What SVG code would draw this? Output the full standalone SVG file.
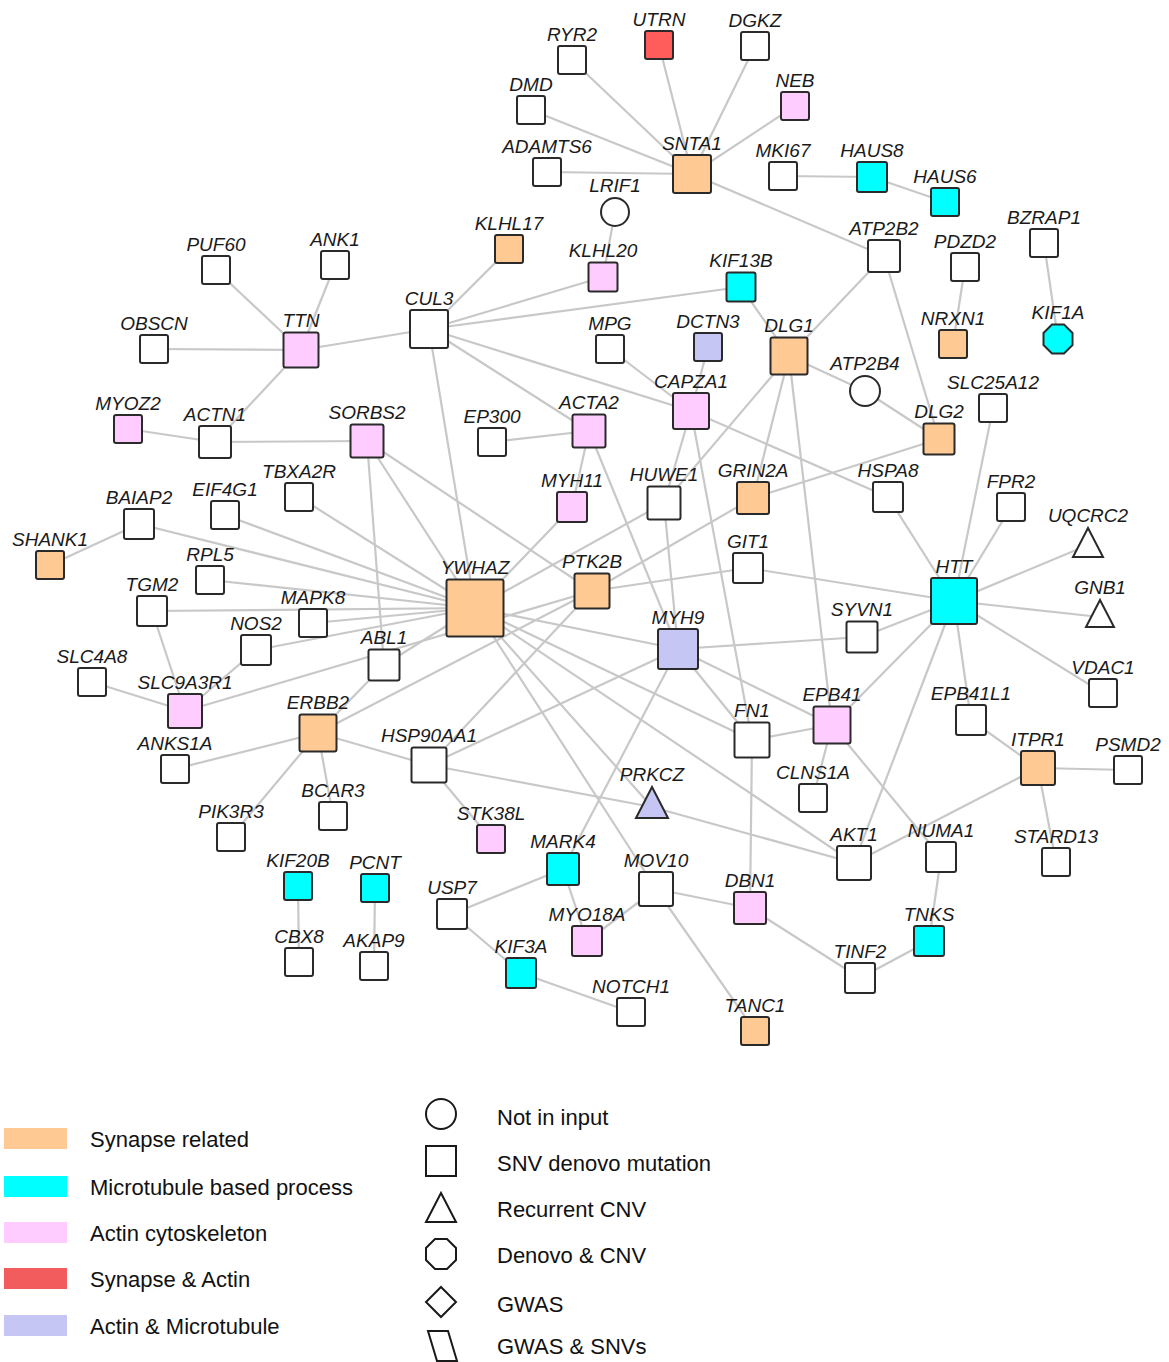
<svg xmlns="http://www.w3.org/2000/svg" width="1169" height="1362" viewBox="0 0 1169 1362">
<style>
.e line{stroke:#c8c8c8;stroke-width:2.2}
.n{stroke:#2a2a2a;stroke-width:2}
.w{fill:#fff}.o{fill:#ffc994}.c{fill:#00ffff}.p{fill:#ffccff}.r{fill:#ff5c5c}.l{fill:#c6c6f4}
.t{font-family:"Liberation Sans",Arial,sans-serif;font-style:italic;font-size:19px;fill:#1a1a1a;text-anchor:middle}
.lg{font-family:"Liberation Sans",Arial,sans-serif;font-size:22px;fill:#111}
.ls{stroke:#1a1a1a;stroke-width:2;fill:#fff}
</style>
<rect width="1169" height="1362" fill="#fff"/>
<g id="edges" class="e">
<line x1="692" y1="174" x2="572" y2="60"/>
<line x1="692" y1="174" x2="659" y2="45"/>
<line x1="692" y1="174" x2="755" y2="46"/>
<line x1="692" y1="174" x2="795" y2="106"/>
<line x1="692" y1="174" x2="531" y2="110"/>
<line x1="692" y1="174" x2="547" y2="172"/>
<line x1="692" y1="174" x2="884" y2="256"/>
<line x1="783" y1="176" x2="872" y2="177"/>
<line x1="872" y1="177" x2="945" y2="202"/>
<line x1="615" y1="212" x2="603" y2="277"/>
<line x1="429" y1="329" x2="509" y2="249"/>
<line x1="429" y1="329" x2="603" y2="277"/>
<line x1="429" y1="329" x2="741" y2="287"/>
<line x1="429" y1="329" x2="301" y2="350"/>
<line x1="429" y1="329" x2="475" y2="608"/>
<line x1="429" y1="329" x2="589" y2="431"/>
<line x1="429" y1="329" x2="691" y2="411"/>
<line x1="741" y1="287" x2="789" y2="356"/>
<line x1="884" y1="256" x2="789" y2="356"/>
<line x1="884" y1="256" x2="939" y2="439"/>
<line x1="965" y1="267" x2="953" y2="344"/>
<line x1="1044" y1="243" x2="1058" y2="339"/>
<line x1="301" y1="350" x2="216" y2="270"/>
<line x1="301" y1="350" x2="335" y2="265"/>
<line x1="301" y1="350" x2="154" y2="349"/>
<line x1="301" y1="350" x2="215" y2="442"/>
<line x1="128" y1="429" x2="215" y2="442"/>
<line x1="215" y1="442" x2="367" y2="441"/>
<line x1="367" y1="441" x2="475" y2="608"/>
<line x1="367" y1="441" x2="384" y2="665"/>
<line x1="367" y1="441" x2="592" y2="591"/>
<line x1="492" y1="442" x2="589" y2="431"/>
<line x1="589" y1="431" x2="572" y2="507"/>
<line x1="589" y1="431" x2="678" y2="649"/>
<line x1="610" y1="349" x2="691" y2="411"/>
<line x1="708" y1="347" x2="691" y2="411"/>
<line x1="691" y1="411" x2="664" y2="503"/>
<line x1="691" y1="411" x2="752" y2="740"/>
<line x1="691" y1="411" x2="888" y2="497"/>
<line x1="789" y1="356" x2="865" y2="391"/>
<line x1="789" y1="356" x2="753" y2="498"/>
<line x1="789" y1="356" x2="832" y2="725"/>
<line x1="789" y1="356" x2="664" y2="503"/>
<line x1="865" y1="391" x2="939" y2="439"/>
<line x1="753" y1="498" x2="939" y2="439"/>
<line x1="753" y1="498" x2="592" y2="591"/>
<line x1="664" y1="503" x2="678" y2="649"/>
<line x1="664" y1="503" x2="475" y2="608"/>
<line x1="572" y1="507" x2="475" y2="608"/>
<line x1="888" y1="497" x2="954" y2="601"/>
<line x1="993" y1="408" x2="954" y2="601"/>
<line x1="1011" y1="507" x2="954" y2="601"/>
<line x1="1088" y1="545" x2="954" y2="601"/>
<line x1="1100" y1="617" x2="954" y2="601"/>
<line x1="1103" y1="693" x2="954" y2="601"/>
<line x1="862" y1="637" x2="954" y2="601"/>
<line x1="748" y1="568" x2="954" y2="601"/>
<line x1="832" y1="725" x2="954" y2="601"/>
<line x1="971" y1="720" x2="954" y2="601"/>
<line x1="854" y1="863" x2="954" y2="601"/>
<line x1="592" y1="591" x2="748" y2="568"/>
<line x1="592" y1="591" x2="429" y2="765"/>
<line x1="592" y1="591" x2="318" y2="733"/>
<line x1="592" y1="591" x2="185" y2="711"/>
<line x1="50" y1="565" x2="139" y2="524"/>
<line x1="139" y1="524" x2="475" y2="608"/>
<line x1="225" y1="515" x2="475" y2="608"/>
<line x1="299" y1="497" x2="475" y2="608"/>
<line x1="210" y1="580" x2="475" y2="608"/>
<line x1="152" y1="611" x2="475" y2="608"/>
<line x1="313" y1="623" x2="475" y2="608"/>
<line x1="256" y1="650" x2="475" y2="608"/>
<line x1="384" y1="665" x2="475" y2="608"/>
<line x1="152" y1="611" x2="185" y2="711"/>
<line x1="92" y1="682" x2="185" y2="711"/>
<line x1="256" y1="650" x2="185" y2="711"/>
<line x1="318" y1="733" x2="384" y2="665"/>
<line x1="318" y1="733" x2="175" y2="769"/>
<line x1="318" y1="733" x2="231" y2="837"/>
<line x1="318" y1="733" x2="333" y2="816"/>
<line x1="318" y1="733" x2="429" y2="765"/>
<line x1="475" y1="608" x2="678" y2="649"/>
<line x1="475" y1="608" x2="752" y2="740"/>
<line x1="475" y1="608" x2="854" y2="863"/>
<line x1="475" y1="608" x2="656" y2="889"/>
<line x1="475" y1="608" x2="652" y2="807"/>
<line x1="678" y1="649" x2="862" y2="637"/>
<line x1="678" y1="649" x2="752" y2="740"/>
<line x1="678" y1="649" x2="832" y2="725"/>
<line x1="678" y1="649" x2="563" y2="869"/>
<line x1="678" y1="649" x2="429" y2="765"/>
<line x1="429" y1="765" x2="491" y2="839"/>
<line x1="429" y1="765" x2="652" y2="807"/>
<line x1="652" y1="807" x2="854" y2="863"/>
<line x1="752" y1="740" x2="832" y2="725"/>
<line x1="752" y1="740" x2="750" y2="908"/>
<line x1="832" y1="725" x2="813" y2="798"/>
<line x1="832" y1="725" x2="941" y2="857"/>
<line x1="854" y1="863" x2="1038" y2="768"/>
<line x1="971" y1="720" x2="1038" y2="768"/>
<line x1="1038" y1="768" x2="1128" y2="770"/>
<line x1="1038" y1="768" x2="1056" y2="862"/>
<line x1="941" y1="857" x2="929" y2="941"/>
<line x1="929" y1="941" x2="860" y2="978"/>
<line x1="860" y1="978" x2="750" y2="908"/>
<line x1="656" y1="889" x2="750" y2="908"/>
<line x1="656" y1="889" x2="587" y2="941"/>
<line x1="656" y1="889" x2="755" y2="1031"/>
<line x1="563" y1="869" x2="452" y2="914"/>
<line x1="563" y1="869" x2="587" y2="941"/>
<line x1="452" y1="914" x2="521" y2="973"/>
<line x1="521" y1="973" x2="631" y2="1012"/>
<line x1="298" y1="886" x2="299" y2="962"/>
<line x1="375" y1="888" x2="374" y2="966"/>
</g>
<g id="nodes">
<g id="n-RYR2"><rect class="n w" x="558" y="46" width="28" height="28" rx="2"/><text class="t" x="572" y="41">RYR2</text></g>
<g id="n-UTRN"><rect class="n r" x="645" y="31" width="28" height="28" rx="2"/><text class="t" x="659" y="26">UTRN</text></g>
<g id="n-DGKZ"><rect class="n w" x="741" y="32" width="28" height="28" rx="2"/><text class="t" x="755" y="27">DGKZ</text></g>
<g id="n-DMD"><rect class="n w" x="517" y="96" width="28" height="28" rx="2"/><text class="t" x="531" y="91">DMD</text></g>
<g id="n-NEB"><rect class="n p" x="781" y="92" width="28" height="28" rx="2"/><text class="t" x="795" y="87">NEB</text></g>
<g id="n-ADAMTS6"><rect class="n w" x="533" y="158" width="28" height="28" rx="2"/><text class="t" x="547" y="153">ADAMTS6</text></g>
<g id="n-SNTA1"><rect class="n o" x="673" y="155" width="38" height="38" rx="2"/><text class="t" x="692" y="150">SNTA1</text></g>
<g id="n-MKI67"><rect class="n w" x="769" y="162" width="28" height="28" rx="2"/><text class="t" x="783" y="157">MKI67</text></g>
<g id="n-HAUS8"><rect class="n c" x="857" y="162" width="30" height="30" rx="2"/><text class="t" x="872" y="157">HAUS8</text></g>
<g id="n-HAUS6"><rect class="n c" x="931" y="188" width="28" height="28" rx="2"/><text class="t" x="945" y="183">HAUS6</text></g>
<g id="n-LRIF1"><circle class="n w" cx="615" cy="212" r="14"/><text class="t" x="615" y="192">LRIF1</text></g>
<g id="n-ATP2B2"><rect class="n w" x="868" y="240" width="32" height="32" rx="2"/><text class="t" x="884" y="235">ATP2B2</text></g>
<g id="n-PDZD2"><rect class="n w" x="951" y="253" width="28" height="28" rx="2"/><text class="t" x="965" y="248">PDZD2</text></g>
<g id="n-BZRAP1"><rect class="n w" x="1030" y="229" width="28" height="28" rx="2"/><text class="t" x="1044" y="224">BZRAP1</text></g>
<g id="n-KLHL17"><rect class="n o" x="495" y="235" width="28" height="28" rx="2"/><text class="t" x="509" y="230">KLHL17</text></g>
<g id="n-KLHL20"><rect class="n p" x="588.5" y="262.5" width="29" height="29" rx="2"/><text class="t" x="603" y="257">KLHL20</text></g>
<g id="n-KIF13B"><rect class="n c" x="726.5" y="272.5" width="29" height="29" rx="2"/><text class="t" x="741" y="267">KIF13B</text></g>
<g id="n-PUF60"><rect class="n w" x="202" y="256" width="28" height="28" rx="2"/><text class="t" x="216" y="251">PUF60</text></g>
<g id="n-ANK1"><rect class="n w" x="321" y="251" width="28" height="28" rx="2"/><text class="t" x="335" y="246">ANK1</text></g>
<g id="n-CUL3"><rect class="n w" x="410" y="310" width="38" height="38" rx="2"/><text class="t" x="429" y="305">CUL3</text></g>
<g id="n-TTN"><rect class="n p" x="283.5" y="332.5" width="35" height="35" rx="2"/><text class="t" x="301" y="327">TTN</text></g>
<g id="n-OBSCN"><rect class="n w" x="140" y="335" width="28" height="28" rx="2"/><text class="t" x="154" y="330">OBSCN</text></g>
<g id="n-MPG"><rect class="n w" x="596" y="335" width="28" height="28" rx="2"/><text class="t" x="610" y="330">MPG</text></g>
<g id="n-DCTN3"><rect class="n l" x="694" y="333" width="28" height="28" rx="2"/><text class="t" x="708" y="328">DCTN3</text></g>
<g id="n-DLG1"><rect class="n o" x="770.5" y="337.5" width="37" height="37" rx="2"/><text class="t" x="789" y="332">DLG1</text></g>
<g id="n-NRXN1"><rect class="n o" x="939" y="330" width="28" height="28" rx="2"/><text class="t" x="953" y="325">NRXN1</text></g>
<g id="n-KIF1A"><polygon class="n c" points="1052,324.5 1064,324.5 1072.5,333 1072.5,345 1064,353.5 1052,353.5 1043.5,345 1043.5,333"/><text class="t" x="1058" y="319">KIF1A</text></g>
<g id="n-ATP2B4"><circle class="n w" cx="865" cy="391" r="15"/><text class="t" x="865" y="370">ATP2B4</text></g>
<g id="n-SLC25A12"><rect class="n w" x="979" y="394" width="28" height="28" rx="2"/><text class="t" x="993" y="389">SLC25A12</text></g>
<g id="n-CAPZA1"><rect class="n p" x="673" y="393" width="36" height="36" rx="2"/><text class="t" x="691" y="388">CAPZA1</text></g>
<g id="n-MYOZ2"><rect class="n p" x="114" y="415" width="28" height="28" rx="2"/><text class="t" x="128" y="410">MYOZ2</text></g>
<g id="n-ACTN1"><rect class="n w" x="199" y="426" width="32" height="32" rx="2"/><text class="t" x="215" y="421">ACTN1</text></g>
<g id="n-SORBS2"><rect class="n p" x="350.5" y="424.5" width="33" height="33" rx="2"/><text class="t" x="367" y="419">SORBS2</text></g>
<g id="n-EP300"><rect class="n w" x="478" y="428" width="28" height="28" rx="2"/><text class="t" x="492" y="423">EP300</text></g>
<g id="n-ACTA2"><rect class="n p" x="572.5" y="414.5" width="33" height="33" rx="2"/><text class="t" x="589" y="409">ACTA2</text></g>
<g id="n-DLG2"><rect class="n o" x="923.5" y="423.5" width="31" height="31" rx="2"/><text class="t" x="939" y="418">DLG2</text></g>
<g id="n-TBXA2R"><rect class="n w" x="285" y="483" width="28" height="28" rx="2"/><text class="t" x="299" y="478">TBXA2R</text></g>
<g id="n-EIF4G1"><rect class="n w" x="211" y="501" width="28" height="28" rx="2"/><text class="t" x="225" y="496">EIF4G1</text></g>
<g id="n-BAIAP2"><rect class="n w" x="124" y="509" width="30" height="30" rx="2"/><text class="t" x="139" y="504">BAIAP2</text></g>
<g id="n-MYH11"><rect class="n p" x="557" y="492" width="30" height="30" rx="2"/><text class="t" x="572" y="487">MYH11</text></g>
<g id="n-HUWE1"><rect class="n w" x="647.5" y="486.5" width="33" height="33" rx="2"/><text class="t" x="664" y="481">HUWE1</text></g>
<g id="n-GRIN2A"><rect class="n o" x="737" y="482" width="32" height="32" rx="2"/><text class="t" x="753" y="477">GRIN2A</text></g>
<g id="n-HSPA8"><rect class="n w" x="873" y="482" width="30" height="30" rx="2"/><text class="t" x="888" y="477">HSPA8</text></g>
<g id="n-FPR2"><rect class="n w" x="997" y="493" width="28" height="28" rx="2"/><text class="t" x="1011" y="488">FPR2</text></g>
<g id="n-UQCRC2"><polygon class="n w" points="1088,528 1103,557 1073,557"/><text class="t" x="1088" y="522">UQCRC2</text></g>
<g id="n-SHANK1"><rect class="n o" x="36" y="551" width="28" height="28" rx="2"/><text class="t" x="50" y="546">SHANK1</text></g>
<g id="n-RPL5"><rect class="n w" x="196" y="566" width="28" height="28" rx="2"/><text class="t" x="210" y="561">RPL5</text></g>
<g id="n-GIT1"><rect class="n w" x="733" y="553" width="30" height="30" rx="2"/><text class="t" x="748" y="548">GIT1</text></g>
<g id="n-HTT"><rect class="n c" x="931" y="578" width="46" height="46" rx="2"/><text class="t" x="954" y="573">HTT</text></g>
<g id="n-TGM2"><rect class="n w" x="137" y="596" width="30" height="30" rx="2"/><text class="t" x="152" y="591">TGM2</text></g>
<g id="n-MAPK8"><rect class="n w" x="299" y="609" width="28" height="28" rx="2"/><text class="t" x="313" y="604">MAPK8</text></g>
<g id="n-YWHAZ"><rect class="n o" x="446.5" y="579.5" width="57" height="57" rx="2"/><text class="t" x="475" y="574">YWHAZ</text></g>
<g id="n-PTK2B"><rect class="n o" x="574.5" y="573.5" width="35" height="35" rx="2"/><text class="t" x="592" y="568">PTK2B</text></g>
<g id="n-GNB1"><polygon class="n w" points="1100,600 1114,627 1086,627"/><text class="t" x="1100" y="594">GNB1</text></g>
<g id="n-NOS2"><rect class="n w" x="241" y="635" width="30" height="30" rx="2"/><text class="t" x="256" y="630">NOS2</text></g>
<g id="n-ABL1"><rect class="n w" x="368.5" y="649.5" width="31" height="31" rx="2"/><text class="t" x="384" y="644">ABL1</text></g>
<g id="n-MYH9"><rect class="n l" x="658" y="629" width="40" height="40" rx="2"/><text class="t" x="678" y="624">MYH9</text></g>
<g id="n-SYVN1"><rect class="n w" x="846.5" y="621.5" width="31" height="31" rx="2"/><text class="t" x="862" y="616">SYVN1</text></g>
<g id="n-SLC4A8"><rect class="n w" x="78" y="668" width="28" height="28" rx="2"/><text class="t" x="92" y="663">SLC4A8</text></g>
<g id="n-VDAC1"><rect class="n w" x="1089" y="679" width="28" height="28" rx="2"/><text class="t" x="1103" y="674">VDAC1</text></g>
<g id="n-SLC9A3R1"><rect class="n p" x="168" y="694" width="34" height="34" rx="2"/><text class="t" x="185" y="689">SLC9A3R1</text></g>
<g id="n-ERBB2"><rect class="n o" x="299.5" y="714.5" width="37" height="37" rx="2"/><text class="t" x="318" y="709">ERBB2</text></g>
<g id="n-EPB41L1"><rect class="n w" x="956" y="705" width="30" height="30" rx="2"/><text class="t" x="971" y="700">EPB41L1</text></g>
<g id="n-EPB41"><rect class="n p" x="813.5" y="706.5" width="37" height="37" rx="2"/><text class="t" x="832" y="701">EPB41</text></g>
<g id="n-FN1"><rect class="n w" x="734.5" y="722.5" width="35" height="35" rx="2"/><text class="t" x="752" y="717">FN1</text></g>
<g id="n-HSP90AA1"><rect class="n w" x="411.5" y="747.5" width="35" height="35" rx="2"/><text class="t" x="429" y="742">HSP90AA1</text></g>
<g id="n-ANKS1A"><rect class="n w" x="161" y="755" width="28" height="28" rx="2"/><text class="t" x="175" y="750">ANKS1A</text></g>
<g id="n-ITPR1"><rect class="n o" x="1021" y="751" width="34" height="34" rx="2"/><text class="t" x="1038" y="746">ITPR1</text></g>
<g id="n-PSMD2"><rect class="n w" x="1114" y="756" width="28" height="28" rx="2"/><text class="t" x="1128" y="751">PSMD2</text></g>
<g id="n-CLNS1A"><rect class="n w" x="799" y="784" width="28" height="28" rx="2"/><text class="t" x="813" y="779">CLNS1A</text></g>
<g id="n-PRKCZ"><polygon class="n l" points="652,787 668,818 636,818"/><text class="t" x="652" y="781">PRKCZ</text></g>
<g id="n-BCAR3"><rect class="n w" x="319" y="802" width="28" height="28" rx="2"/><text class="t" x="333" y="797">BCAR3</text></g>
<g id="n-PIK3R3"><rect class="n w" x="217" y="823" width="28" height="28" rx="2"/><text class="t" x="231" y="818">PIK3R3</text></g>
<g id="n-STK38L"><rect class="n p" x="477" y="825" width="28" height="28" rx="2"/><text class="t" x="491" y="820">STK38L</text></g>
<g id="n-AKT1"><rect class="n w" x="837" y="846" width="34" height="34" rx="2"/><text class="t" x="854" y="841">AKT1</text></g>
<g id="n-NUMA1"><rect class="n w" x="926" y="842" width="30" height="30" rx="2"/><text class="t" x="941" y="837">NUMA1</text></g>
<g id="n-STARD13"><rect class="n w" x="1042" y="848" width="28" height="28" rx="2"/><text class="t" x="1056" y="843">STARD13</text></g>
<g id="n-MARK4"><rect class="n c" x="547" y="853" width="32" height="32" rx="2"/><text class="t" x="563" y="848">MARK4</text></g>
<g id="n-MOV10"><rect class="n w" x="639" y="872" width="34" height="34" rx="2"/><text class="t" x="656" y="867">MOV10</text></g>
<g id="n-KIF20B"><rect class="n c" x="284" y="872" width="28" height="28" rx="2"/><text class="t" x="298" y="867">KIF20B</text></g>
<g id="n-PCNT"><rect class="n c" x="361" y="874" width="28" height="28" rx="2"/><text class="t" x="375" y="869">PCNT</text></g>
<g id="n-DBN1"><rect class="n p" x="734" y="892" width="32" height="32" rx="2"/><text class="t" x="750" y="887">DBN1</text></g>
<g id="n-USP7"><rect class="n w" x="437" y="899" width="30" height="30" rx="2"/><text class="t" x="452" y="894">USP7</text></g>
<g id="n-MYO18A"><rect class="n p" x="572" y="926" width="30" height="30" rx="2"/><text class="t" x="587" y="921">MYO18A</text></g>
<g id="n-TNKS"><rect class="n c" x="914" y="926" width="30" height="30" rx="2"/><text class="t" x="929" y="921">TNKS</text></g>
<g id="n-CBX8"><rect class="n w" x="285" y="948" width="28" height="28" rx="2"/><text class="t" x="299" y="943">CBX8</text></g>
<g id="n-AKAP9"><rect class="n w" x="360" y="952" width="28" height="28" rx="2"/><text class="t" x="374" y="947">AKAP9</text></g>
<g id="n-KIF3A"><rect class="n c" x="506" y="958" width="30" height="30" rx="2"/><text class="t" x="521" y="953">KIF3A</text></g>
<g id="n-TINF2"><rect class="n w" x="845" y="963" width="30" height="30" rx="2"/><text class="t" x="860" y="958">TINF2</text></g>
<g id="n-NOTCH1"><rect class="n w" x="617" y="998" width="28" height="28" rx="2"/><text class="t" x="631" y="993">NOTCH1</text></g>
<g id="n-TANC1"><rect class="n o" x="741" y="1017" width="28" height="28" rx="2"/><text class="t" x="755" y="1012">TANC1</text></g>
</g>
<g id="legend">
<rect x="4" y="1128" width="63" height="21" fill="#ffc994"/>
<text class="lg" x="90" y="1147">Synapse related</text>
<rect x="4" y="1176" width="63" height="21" fill="#00ffff"/>
<text class="lg" x="90" y="1195">Microtubule based process</text>
<rect x="4" y="1222" width="63" height="21" fill="#ffccff"/>
<text class="lg" x="90" y="1241">Actin cytoskeleton</text>
<rect x="4" y="1268" width="63" height="21" fill="#f25c5c"/>
<text class="lg" x="90" y="1287">Synapse &amp; Actin</text>
<rect x="4" y="1315" width="63" height="21" fill="#c6c6f4"/>
<text class="lg" x="90" y="1334">Actin &amp; Microtubule</text>
<circle class="ls" cx="441" cy="1114" r="15"/>
<text class="lg" x="497" y="1125">Not in input</text>
<rect class="ls" x="426" y="1146" width="30" height="30"/>
<text class="lg" x="497" y="1171">SNV denovo mutation</text>
<polygon class="ls" points="441,1193 456,1222 426,1222"/>
<text class="lg" x="497" y="1217">Recurrent CNV</text>
<polygon class="ls" points="435,1239 447,1239 456,1248 456,1260 447,1269 435,1269 426,1260 426,1248"/>
<text class="lg" x="497" y="1263">Denovo &amp; CNV</text>
<polygon class="ls" points="441,1287 456,1302 441,1317 426,1302"/>
<text class="lg" x="497" y="1312">GWAS</text>
<polygon class="ls" points="428,1331 448,1331 457,1361 437,1361"/>
<text class="lg" x="497" y="1354">GWAS &amp; SNVs</text>
</g>
</svg>
